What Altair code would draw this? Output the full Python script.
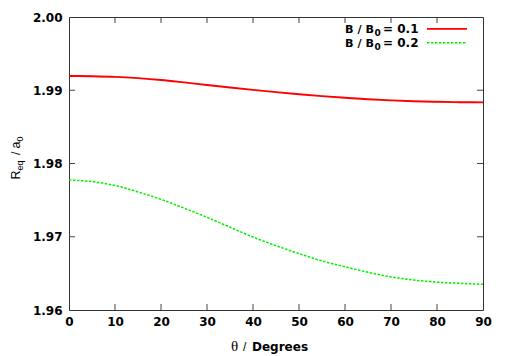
import altair as alt
import pandas as pd

# ---- data ----
theta = [0, 5, 10, 15, 20, 25, 30, 35, 40, 45, 50, 55, 60, 65, 70, 75, 80, 85, 90]
r_b01 = [1.99195, 1.99192, 1.99183, 1.99165, 1.99140, 1.99107, 1.99072, 1.99038, 1.99005,
         1.98974, 1.98945, 1.98920, 1.98897, 1.98878, 1.98862, 1.98850, 1.98842, 1.98837, 1.98835]
r_b02 = [1.97775, 1.97752, 1.97700, 1.97612, 1.97510, 1.97391, 1.97265, 1.97130, 1.96996,
         1.96878, 1.96770, 1.96670, 1.96590, 1.96515, 1.96452, 1.96408, 1.96380, 1.96364, 1.96350]
series = ["0.1", "0.2"]
x_ticks = [0, 10, 20, 30, 40, 50, 60, 70, 80, 90]
y_ticks = [1.96, 1.97, 1.98, 1.99, 2.00]

W, H = 414, 293
df = pd.DataFrame({
    "theta": theta * 2,
    "R": r_b01 + r_b02,
    "s": [series[0]] * len(theta) + [series[1]] * len(theta),
})

xs = alt.Scale(domain=[0, 90], nice=False, zero=False)
ys = alt.Scale(domain=[1.96, 2.0], nice=False, zero=False)
FONT = "DejaVu Sans"
RED = "#ff0000"
GREEN = "#00f000"

X = alt.X("theta:Q", scale=xs, axis=alt.Axis(
    values=x_ticks, title=None, ticks=False, domain=False, grid=False,
    labelFont=FONT, labelFontWeight="bold", labelFontSize=12, labelColor="black",
    labelPadding=6, labelFlush=False))
Y = alt.Y("R:Q", scale=ys, axis=alt.Axis(
    values=y_ticks, format=".2f", title=None, ticks=False, domain=False, grid=False,
    labelFont=FONT, labelFontWeight="bold", labelFontSize=12, labelColor="black",
    labelPadding=7, labelFlush=False))

red = alt.Chart(df).transform_filter(alt.datum.s == series[0]).mark_line(
    color=RED, strokeWidth=1.9, interpolate="monotone").encode(x=X, y=Y)
green = alt.Chart(df).transform_filter(alt.datum.s == series[1]).mark_line(
    color=GREEN, strokeWidth=1.5, strokeDash=[2.5, 1.5], interpolate="monotone").encode(x=X, y=Y)

TICK = "#444444"
xt = pd.DataFrame({"theta": x_ticks[1:-1]})
yt = pd.DataFrame({"R": y_ticks[1:-1]})
tick_b = alt.Chart(xt).mark_rule(color=TICK, strokeWidth=1).encode(x=X, y=alt.value(H), y2=alt.value(H - 6))
tick_t = alt.Chart(xt).mark_rule(color=TICK, strokeWidth=1).encode(x=X, y=alt.value(0), y2=alt.value(6))
tick_l = alt.Chart(yt).mark_rule(color=TICK, strokeWidth=1).encode(y=Y, x=alt.value(0), x2=alt.value(6))
tick_r = alt.Chart(yt).mark_rule(color=TICK, strokeWidth=1).encode(y=Y, x=alt.value(W), x2=alt.value(W - 6))


def label(txt, x, y, size=12, weight="bold", font=FONT, angle=0):
    return alt.Chart(alt.Data(values=[{"t": txt}])).mark_text(
        font=font, fontSize=size, fontWeight=weight, angle=angle,
        align="left", baseline="alphabetic", color="black"
    ).encode(x=alt.value(x), y=alt.value(y), text="t:N")


# legend
leg = [
    label("B / B", 276, 15.8, size=11.2),
    label("0", 305.5, 19.2, size=9),
    label("= " + series[0], 314, 15.8, size=12),
    label("B / B", 276, 29.5, size=11.2),
    label("0", 305.5, 32.9, size=9),
    label("= " + series[1], 314, 29.5, size=12),
]
leg_red = alt.Chart(alt.Data(values=[{"s": series[0]}])).mark_rule(color=RED, strokeWidth=1.7).encode(
    x=alt.value(358), x2=alt.value(398), y=alt.value(11.8))
leg_green = alt.Chart(alt.Data(values=[{"s": series[1]}])).mark_rule(
    color=GREEN, strokeWidth=1.4, strokeDash=[2.5, 1.5]).encode(
    x=alt.value(358), x2=alt.value(398), y=alt.value(25.8))

# axis titles
xtitle = [
    label("θ", 162, 333.5, size=15, weight="normal", font="Liberation Serif"),
    label("/", 174, 333.5, size=12, weight="normal", font="Liberation Sans"),
    label("Degrees", 183, 333.5, size=12),
]
ytitle = [
    label("R", -49, 162.5, size=12.5, weight="normal", font="Liberation Sans", angle=270),
    label("eq", -46, 153.5, size=9, weight="normal", font="Liberation Sans", angle=270),
    label("/", -49, 138, size=12, weight="normal", font="Liberation Sans", angle=270),
    label("a", -49, 131.5, size=12.5, weight="normal", font="Liberation Sans", angle=270),
    label("0", -46, 124.5, size=9, weight="normal", font="Liberation Sans", angle=270),
]

chart = alt.layer(
    red, green, tick_b, tick_t, tick_l, tick_r, leg_red, leg_green, *leg, *xtitle, *ytitle
).properties(
    width=W, height=H,
    autosize=alt.AutoSizeParams(type="none"),
    padding={"left": 61, "top": 9, "right": 14, "bottom": 44},
    background="white",
).configure_view(stroke="#333333", strokeWidth=1)

chart.save("out.html", embed_options={"renderer": "svg", "actions": False})
